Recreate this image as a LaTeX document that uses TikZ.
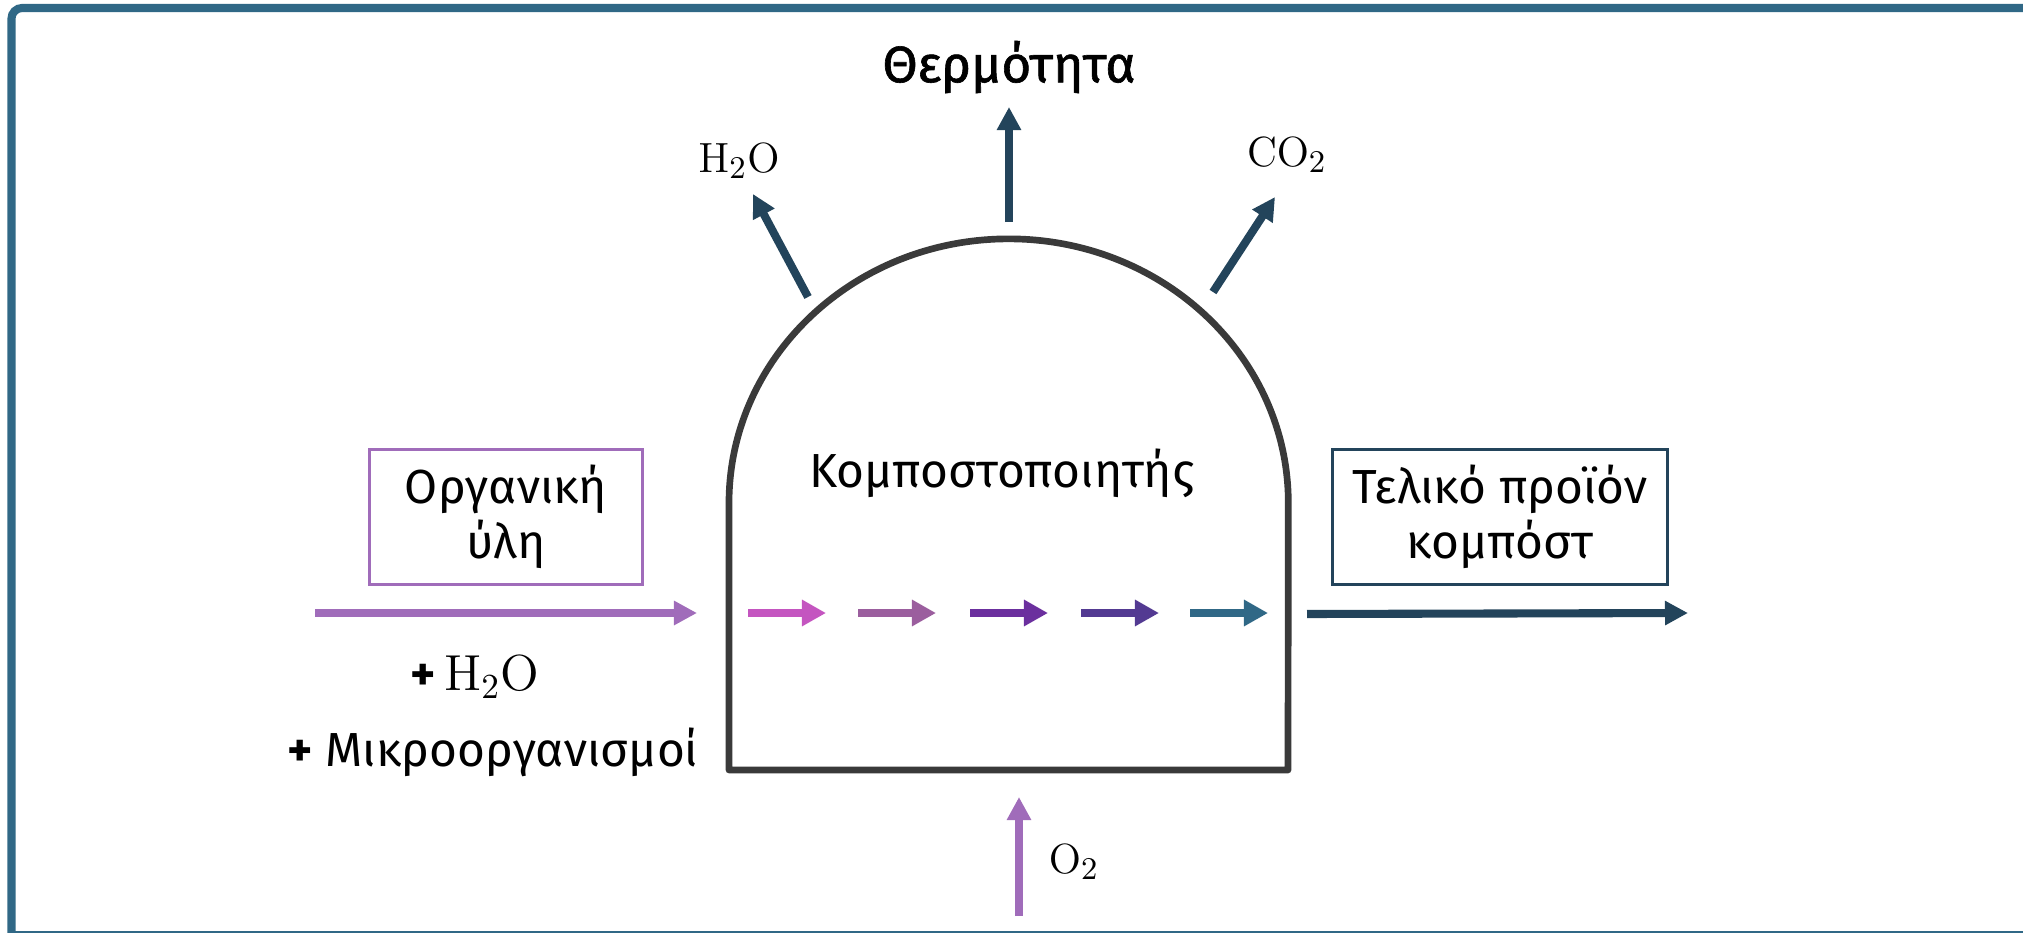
\documentclass[tikz,border=0pt]{standalone}
\usepackage[no-math]{fontspec}
\setmainfont{Fira Sans}
\newfontfamily\heatfont[FakeBold=1.2]{Fira Sans}
\usetikzlibrary{arrows.meta}

\definecolor{frameblue}{HTML}{306886}
\definecolor{archgray}{HTML}{3A3A3A}
\definecolor{navy}{HTML}{23445B}
\definecolor{lavender}{HTML}{A06CBA}
\definecolor{stagepink}{HTML}{C455C0}
\definecolor{stagemauve}{HTML}{9B5E9E}
\definecolor{stageviolet}{HTML}{6B2F9E}
\definecolor{stageindigo}{HTML}{533A92}
\definecolor{stageteal}{HTML}{306886}

\begin{document}
\begin{tikzpicture}[
  x=0.01cm, y=-0.01cm,
  every node/.style={inner sep=0pt, font=\fontsize{13.6}{15.6}\selectfont},
  flow/.style={line width=2.3pt, -{Triangle[length=0.23cm, width=0.23cm]}},
  stage/.style={line width=2.3pt, -{Triangle[length=0.24cm, width=0.25cm]}},
  tag/.style={draw, line width=0.85pt, minimum width=2.73cm, minimum height=1.35cm, align=center},
  chem/.style={font=\fontsize{12.8}{15}\selectfont}
]
\useasboundingbox (0,0) rectangle (2023,933);
\draw[frameblue, line width=2.3pt, rounded corners=3pt] (2040,8) -- (11.5,8) -- (11.5,950);
\draw[frameblue, line width=0.7pt] (11.5,932) -- (2040,932);

\draw[archgray, line width=1.9pt, line join=round]
  (729,770) -- (729,503) arc[start angle=180, end angle=0, x radius=2.795cm, y radius=2.64cm]
  -- (1288,770) -- cycle;
\node (comp) at (1002,473) {Κομποστοποιητής};

\foreach \c/\xa [count=\i] in {stagepink/748, stagemauve/858, stageviolet/970, stageindigo/1081, stageteal/1190} {
  \coordinate (s\i) at (\xa,613);
  \coordinate (e\i) at (\xa+78,613);
  \draw[stage, \c] (s\i) -- (e\i);
}

\node[tag, draw=lavender] (organic) at (506,517) {Οργανική\\ύλη};
\node[tag, draw=navy, minimum width=3.35cm] (product) at (1500,517) {Τελικό προϊόν\\κομπόστ};
\coordinate (infoot) at (315,613);
\coordinate (intip) at (697,613);
\draw[flow, lavender] (infoot) -- (intip);
\coordinate (outfoot) at (1307,614);
\coordinate (outtip) at (1688,613);
\draw[flow, navy] (outfoot) -- (outtip);

\node (water) at (475,677) {\textbf{+}\,$\mathrm{H_2O}$};
\node (microbes) at (493,752) {\textbf{+} Μικροοργανισμοί};

\node[font=\fontsize{14.6}{16}\heatfont] (heat) at (1009,67) {Θερμότητα};
\node[chem] (vapour) at (739,161) {$\mathrm{H_2O}$};
\node[chem] (carbon) at (1287,155) {$\mathrm{CO_2}$};
\node[chem] (oxygen) at (1074,862) {$\mathrm{O_2}$};

\coordinate (heatfoot) at (1009,222);
\coordinate (heattip) at (1009,107);
\draw[flow, navy] (heatfoot) -- (heattip);
\coordinate (vapfoot) at (808,297);
\coordinate (vaptip) at (753,194);
\draw[flow, navy] (vapfoot) -- (vaptip);
\coordinate (carbfoot) at (1213,292);
\coordinate (carbtip) at (1275,197);
\draw[flow, navy] (carbfoot) -- (carbtip);
\coordinate (oxyfoot) at (1019,916);
\coordinate (oxytip) at (1019,797);
\draw[flow, lavender] (oxyfoot) -- (oxytip);
\end{tikzpicture}
\end{document}
